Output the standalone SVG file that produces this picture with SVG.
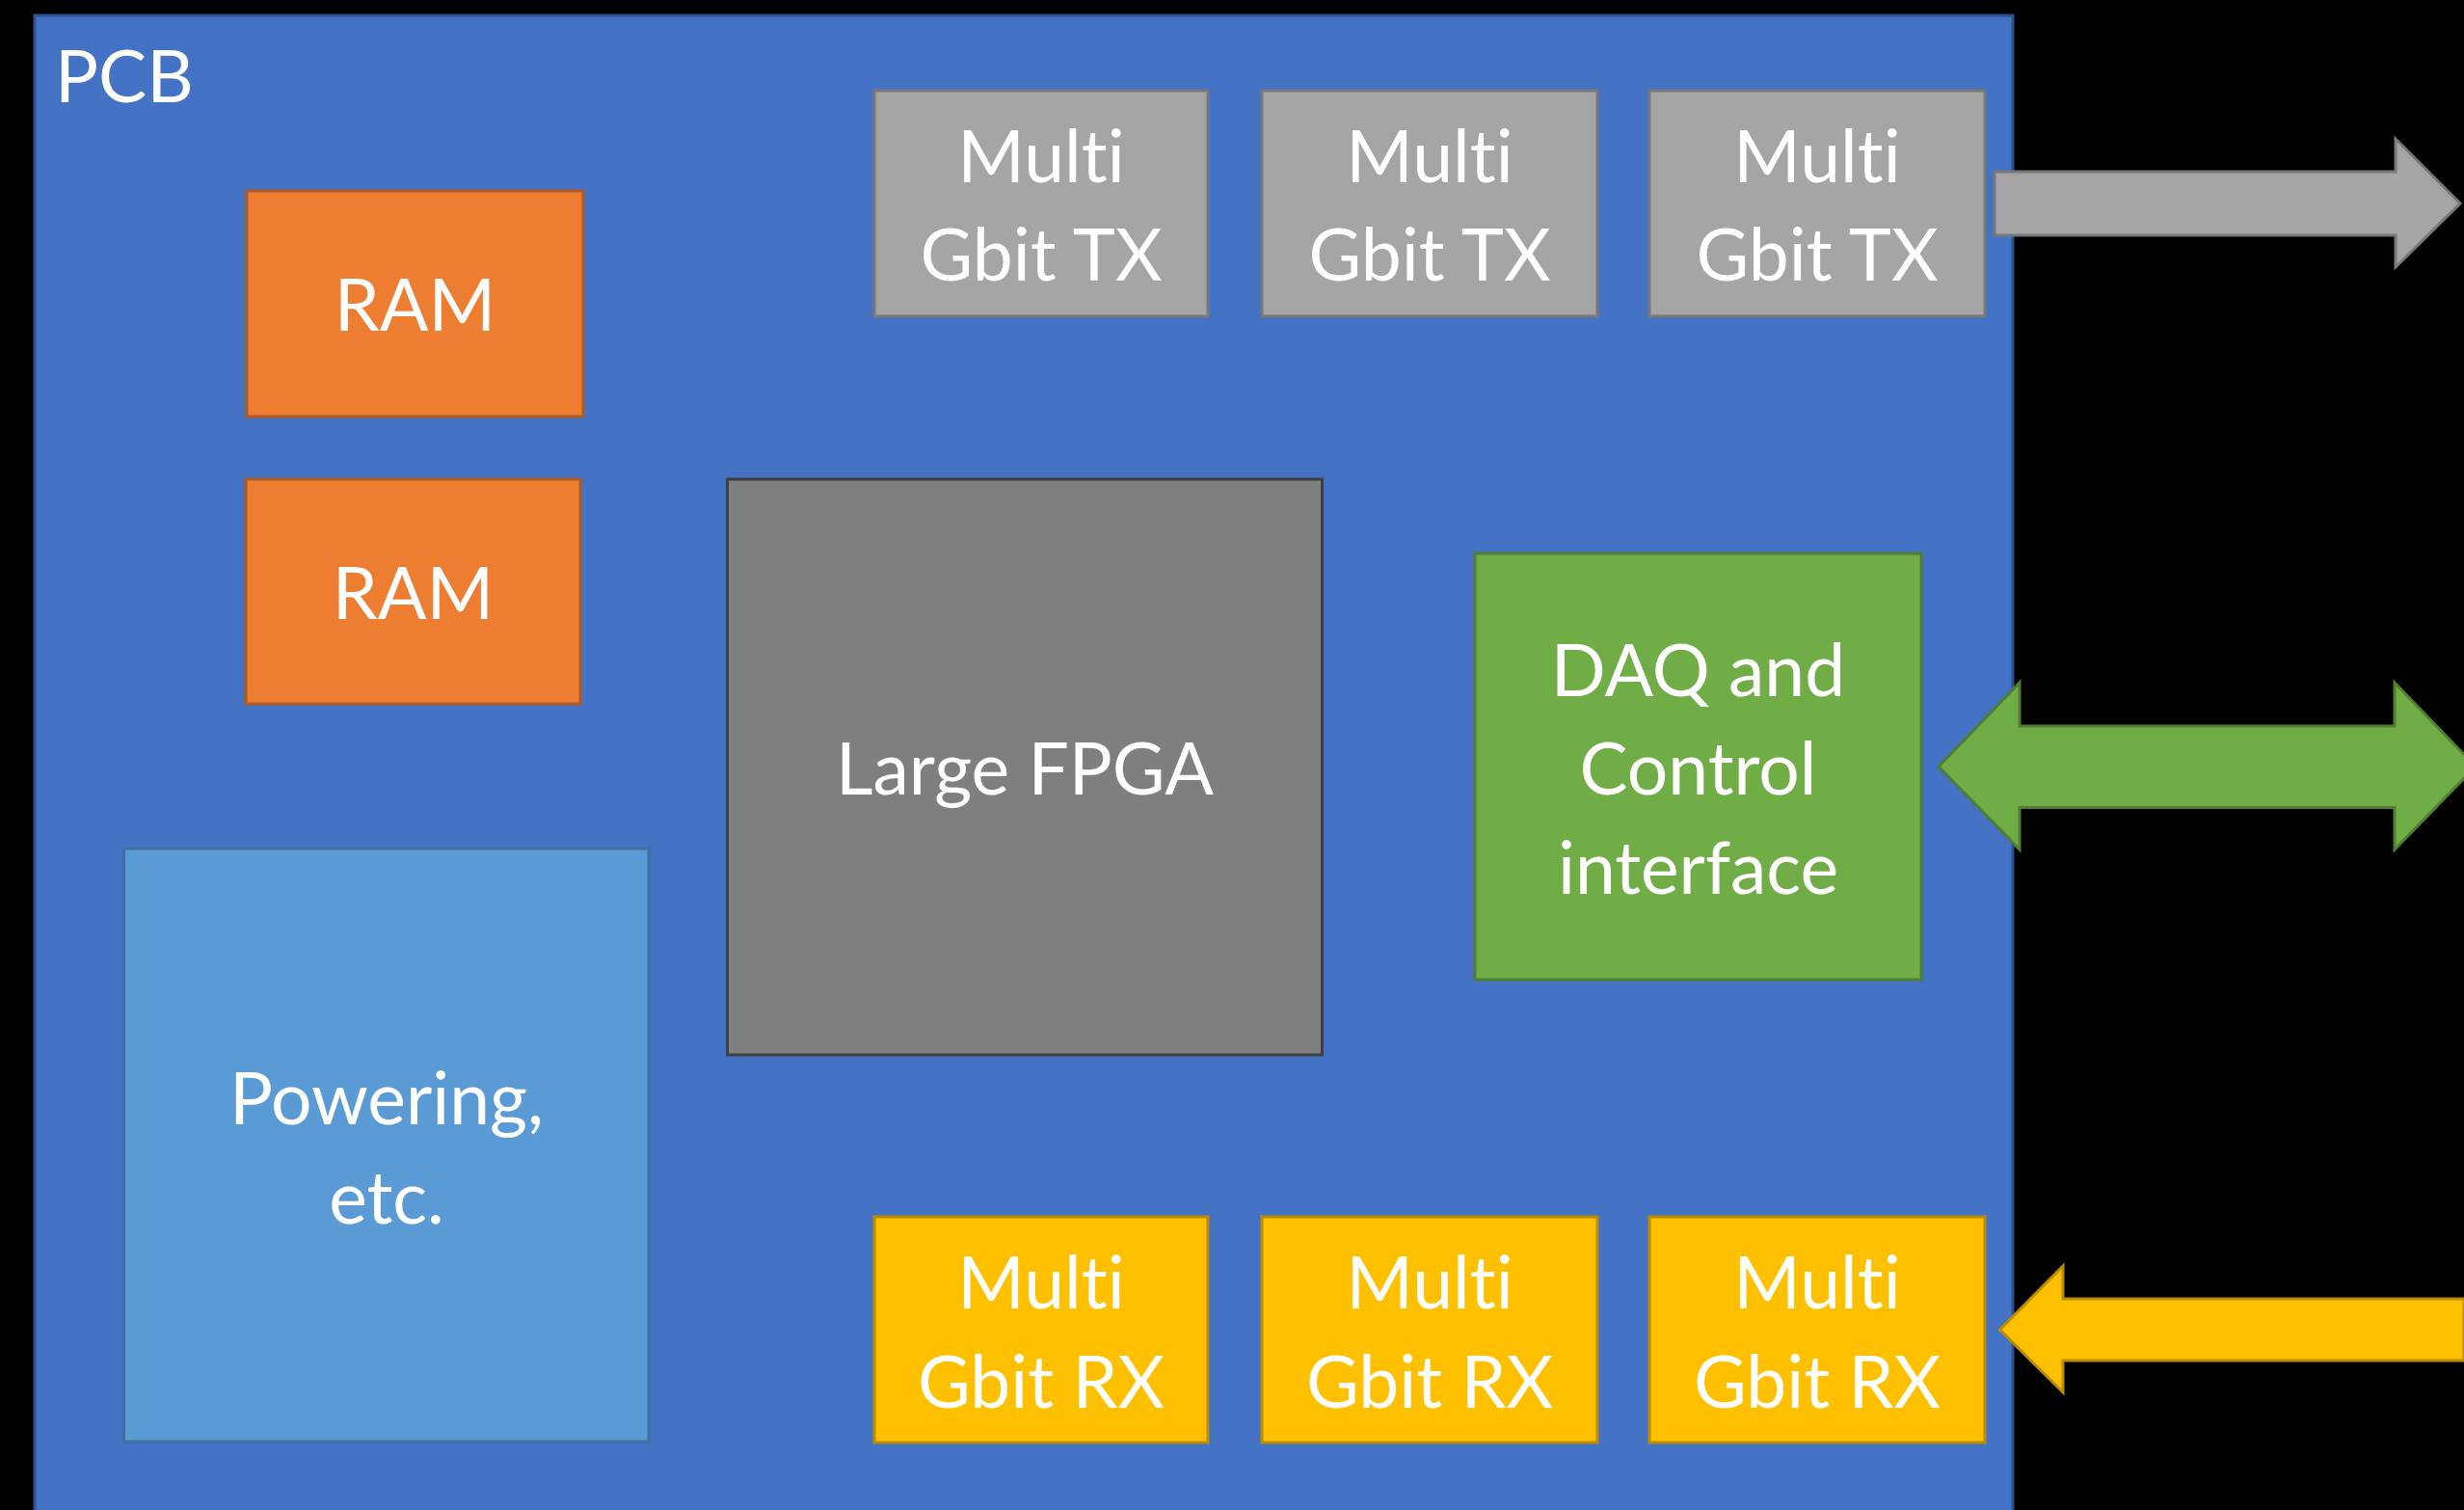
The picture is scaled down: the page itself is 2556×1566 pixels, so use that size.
<svg xmlns="http://www.w3.org/2000/svg" width="2556" height="1566" viewBox="0 0 2556 1566">
  <style>
    .lbl { font-family: Lato, "Open Sans", "Liberation Sans", sans-serif; font-size: 75px; fill: #FFFFFF; text-anchor: middle; font-variant-ligatures: none; font-feature-settings: "liga" 0, "clig" 0; }
    .pcb-lbl { text-anchor: start; }
    .board { fill: #4472C4; stroke: #2F528F; stroke-width: 3; }
    .ram { fill: #ED7D31; stroke: #AE5A21; stroke-width: 3; }
    .tx { fill: #A5A5A5; stroke: #787878; stroke-width: 3; }
    .fpga { fill: #7F7F7F; stroke: #3F3F3F; stroke-width: 3; }
    .daq { fill: #70AD47; stroke: #507E32; stroke-width: 3; }
    .pwr { fill: #5B9BD5; stroke: #41719C; stroke-width: 3; }
    .rx { fill: #FFC000; stroke: #BC8C00; stroke-width: 3; }
  </style>

  <!-- background -->
  <rect x="0" y="0" width="2556" height="1566" fill="#000000"/>

  <!-- circuit board -->
  <g id="pcb">
    <rect class="board" x="36" y="16" width="2052" height="1570"/>
    <text class="lbl pcb-lbl" x="57" y="106">PCB</text>
  </g>

  <g id="ram1">
    <rect class="ram" x="256" y="198" width="349" height="234"/>
    <text class="lbl" x="430.5" y="343">RAM</text>
  </g>

  <g id="ram2">
    <rect class="ram" x="255" y="497" width="347" height="233"/>
    <text class="lbl" x="428.5" y="641.5">RAM</text>
  </g>

  <g id="fpga">
    <rect class="fpga" x="754.5" y="497" width="617" height="597"/>
    <text class="lbl" x="1063" y="823.5">Large FPGA</text>
  </g>

  <g id="daq">
    <rect class="daq" x="1530" y="574" width="463" height="442"/>
    <text class="lbl" x="1761.5" y="722">DAQ and</text>
    <text class="lbl" x="1761.5" y="824">Control</text>
    <text class="lbl" x="1761.5" y="926.5">interface</text>
  </g>

  <g id="powering">
    <rect class="pwr" x="128.5" y="880" width="544.5" height="615"/>
    <text class="lbl" x="401" y="1166">Powering,</text>
    <text class="lbl" x="401" y="1268.5">etc.</text>
  </g>

  <g id="tx1">
    <rect class="tx" x="907" y="94" width="346" height="234"/>
    <text class="lbl" x="1080" y="188.5">Multi</text>
    <text class="lbl" x="1080" y="291">Gbit TX</text>
  </g>
  <g id="tx2">
    <rect class="tx" x="1309" y="94" width="348" height="234"/>
    <text class="lbl" x="1483" y="188.5">Multi</text>
    <text class="lbl" x="1483" y="291">Gbit TX</text>
  </g>
  <g id="tx3">
    <rect class="tx" x="1711" y="94" width="348" height="234"/>
    <text class="lbl" x="1885" y="188.5">Multi</text>
    <text class="lbl" x="1885" y="291">Gbit TX</text>
  </g>

  <g id="rx1">
    <rect class="rx" x="907" y="1262" width="346" height="234"/>
    <text class="lbl" x="1080" y="1357">Multi</text>
    <text class="lbl" x="1080" y="1459.5">Gbit RX</text>
  </g>
  <g id="rx2">
    <rect class="rx" x="1309" y="1262" width="348" height="234"/>
    <text class="lbl" x="1483" y="1357">Multi</text>
    <text class="lbl" x="1483" y="1459.5">Gbit RX</text>
  </g>
  <g id="rx3">
    <rect class="rx" x="1711" y="1262" width="348" height="234"/>
    <text class="lbl" x="1885" y="1357">Multi</text>
    <text class="lbl" x="1885" y="1459.5">Gbit RX</text>
  </g>

  <!-- block arrows leaving / entering the board -->
  <g id="connectors">
    <polygon class="tx" points="2069,178 2485,178 2485,144 2552,211 2485,277 2485,244 2069,244"/>
    <polygon class="daq" points="2011,795 2095,708 2095,753 2484,753 2484,708 2568,795 2484,881 2484,837.5 2095,837.5 2095,881"/>
    <polygon class="rx" points="2074.5,1379 2140,1313 2140,1347 2556,1347 2556,1411 2140,1411 2140,1444"/>
  </g>
</svg>
